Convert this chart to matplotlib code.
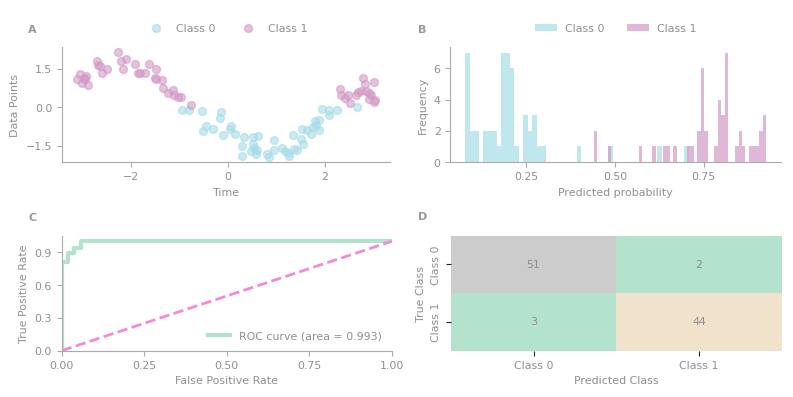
import numpy as np
import matplotlib
matplotlib.use("Agg")
import matplotlib.pyplot as plt

# ---- data ----
time_c0 = [-0.94, -0.81, -0.53, -0.15, -0.16, -0.45, -0.52, -0.31, 0.07, 0.04,
           0.14, -0.11, 0.33, 0.30, 0.29, 0.51, 0.62, 0.51, 0.54, 0.48,
           0.61, 0.59, 0.80, 0.84, 0.96, 0.96, 1.12,
           1.17, 1.23, 1.26, 1.36, 1.43, 1.50, 1.55, 1.34, 1.53, 1.64,
           1.72, 1.76, 1.79, 1.82, 1.88, 1.88, 1.94, 2.08, 2.09, 2.25, 2.66]
vals_c0 = [-0.12, -0.12, -0.14, -0.18, -0.44, -0.72, -0.95, -0.87, -0.72, -0.87,
           -1.03, -1.08, -1.16, -1.50, -1.92, -1.16, -1.13, -1.42, -1.59, -1.73,
           -1.66, -1.84, -1.84, -1.94, -1.29, -1.66, -1.60,
           -1.72, -1.78, -1.92, -1.63, -1.66, -1.26, -1.42, -1.07, -0.85, -0.90,
           -1.04, -0.77, -0.53, -0.68, -0.52, -0.90, -0.09, -0.13, -0.29, -0.13, 0.02]

time_c1 = [-3.11, -3.04, -3.01, -2.94, -2.92, -2.89, -2.97, -2.70, -2.67, -2.63,
           -2.59, -2.48, -2.27, -2.21, -2.09, -2.15, -1.91, -1.86, -1.81, -1.70,
           -1.62, -1.47, -1.50, -1.48, -1.35, -1.34, -1.23, -1.12, -1.10, -1.03,
           -0.97, -0.75,
           2.30, 2.34, 2.42, 2.48, 2.52, 2.64, 2.68, 2.75, 2.78, 2.83,
           2.84, 2.91, 2.95, 2.90, 3.02, 3.04, 3.02]
vals_c1 = [1.08, 1.29, 0.95, 1.08, 1.21, 0.85, 1.12, 1.81, 1.63, 1.60,
           1.32, 1.50, 2.13, 1.80, 1.86, 1.47, 1.67, 1.32, 1.34, 1.34,
           1.68, 1.47, 1.12, 1.08, 1.06, 0.74, 0.56, 0.66, 0.46, 0.40,
           0.38, 0.07,
           0.69, 0.46, 0.37, 0.46, 0.14, 0.46, 0.59, 0.63, 1.15, 0.89,
           0.63, 0.56, 0.46, 0.33, 0.98, 0.27, 0.20]

# predicted probability histograms (50 bins each)
prob_range_c0 = (0.0789, 0.7076)
counts_c0 = [7, 2, 2, 0, 2, 2, 2, 1, 7, 7, 6, 1, 0, 3, 2, 3, 1, 1, 0, 0,
             0, 0, 0, 0, 0, 1, 0, 0, 0, 0, 0, 0, 1, 0, 0, 0, 0, 0, 0, 0,
             0, 0, 0, 1, 0, 0, 0, 0, 0, 1]
prob_range_c1 = (0.4407, 0.9257)
counts_c1 = [2, 0, 0, 0, 1, 0, 0, 0, 0, 0, 0, 0, 0, 1, 0, 0, 0, 1, 0, 0,
             1, 1, 0, 1, 0, 0, 0, 1, 1, 0, 2, 6, 2, 0, 0, 1, 4, 3, 7, 0,
             0, 1, 2, 1, 0, 1, 1, 1, 2, 3]

# ROC curve
fpr = [0.0, 0.0, 0.019, 0.019, 0.038, 0.038, 0.057, 0.057, 1.0]
tpr = [0.0, 0.809, 0.809, 0.894, 0.894, 0.936, 0.936, 1.0, 1.0]
roc_auc = 0.993

# confusion matrix
class_names = ["Class 0", "Class 1"]
conf_mat = np.array([[51, 2], [3, 44]])

# ---- style ----
grey = "#8f8f8f"
spine_grey = "#aaaaaa"
blue = "#a6dce8"
pink = "#d49ac6"
mint = "#b3e2cd"
diag_pink = "#f38ad3"

plt.rcParams["font.size"] = 7.9
plt.rcParams["text.color"] = grey
plt.rcParams["axes.labelcolor"] = grey
plt.rcParams["xtick.color"] = spine_grey
plt.rcParams["ytick.color"] = spine_grey
plt.rcParams["xtick.labelcolor"] = grey
plt.rcParams["ytick.labelcolor"] = grey
plt.rcParams["axes.edgecolor"] = spine_grey

fig = plt.figure(figsize=(7.935, 3.975), dpi=100)
axA = fig.add_axes([0.078, 0.591, 0.414, 0.289])
axB = fig.add_axes([0.5675, 0.591, 0.417, 0.289])
axC = fig.add_axes([0.0778, 0.1166, 0.416, 0.289])
axD = fig.add_axes([0.5683, 0.1166, 0.4167, 0.289])


def clean(ax):
    ax.spines["top"].set_visible(False)
    ax.spines["right"].set_visible(False)


# A: scatter
axA.scatter(time_c0, vals_c0, s=32, color=blue, alpha=0.6, label="Class 0")
axA.scatter(time_c1, vals_c1, s=32, color=pink, alpha=0.6, label="Class 1")
axA.set_xticks([-2, 0, 2])
axA.set_yticks([-1.5, 0.0, 1.5])
axA.set_xlabel("Time")
axA.set_ylabel("Data Points")
clean(axA)
axA.legend(loc="center", bbox_to_anchor=(0.5, 1.165), ncol=2, frameon=False)

# B: histograms
edges0 = np.linspace(prob_range_c0[0], prob_range_c0[1], len(counts_c0) + 1)
edges1 = np.linspace(prob_range_c1[0], prob_range_c1[1], len(counts_c1) + 1)
axB.hist(edges0[:-1], bins=edges0, weights=counts_c0, color=blue, alpha=0.7,
         label="Class 0")
axB.hist(edges1[:-1], bins=edges1, weights=counts_c1, color=pink, alpha=0.7,
         label="Class 1")
axB.set_xticks([0.25, 0.5, 0.75])
axB.set_yticks([0, 2, 4, 6])
axB.set_xlabel("Predicted probability")
axB.set_ylabel("Frequency")
clean(axB)
axB.legend(loc="center", bbox_to_anchor=(0.5, 1.165), ncol=2, frameon=False)

# C: ROC
axC.plot(fpr, tpr, color=mint, lw=3, label=f"ROC curve (area = {roc_auc:.3f})")
axC.plot([0, 1], [0, 1], color=diag_pink, lw=2, linestyle="--")
axC.set_xlim(0, 1)
axC.set_ylim(0, 1.05)
axC.set_xticks([0, 0.25, 0.5, 0.75, 1.0])
axC.set_xticklabels(["0.00", "0.25", "0.50", "0.75", "1.00"])
axC.set_yticks([0, 0.3, 0.6, 0.9])
axC.set_xlabel("False Positive Rate")
axC.set_ylabel("True Positive Rate")
clean(axC)
axC.legend(loc="lower right", frameon=False)

# D: confusion matrix
axD.imshow(conf_mat, cmap="Pastel2", aspect="auto")
for i in range(2):
    for j in range(2):
        axD.text(j, i, str(conf_mat[i, j]), ha="center", va="center", color=grey)
axD.set_xticks([0, 1])
axD.set_xticklabels(class_names)
axD.set_yticks([0, 1])
axD.set_yticklabels(class_names, rotation=90, va="center")
axD.tick_params(color="#222222")
for s in axD.spines.values():
    s.set_visible(False)
axD.set_xlabel("Predicted Class")
axD.set_ylabel("True Class")

for lbl, x, y in [("A", 0.041, 0.924), ("B", 0.532, 0.924),
                  ("C", 0.041, 0.451), ("D", 0.532, 0.453)]:
    fig.text(x, y, lbl, ha="center", va="center", fontweight="bold",
             fontsize=8, color="#999999")

fig.savefig("out.png", dpi=100)
